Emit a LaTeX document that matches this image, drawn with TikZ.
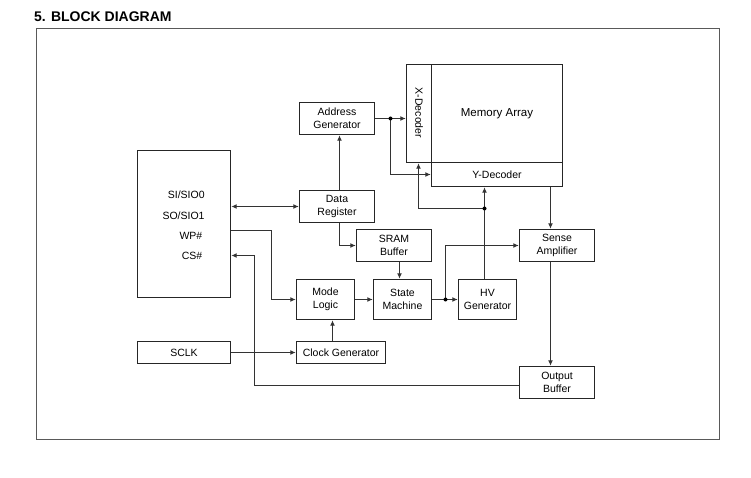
\documentclass[tikz,border=0pt]{standalone}
\usepackage{fontspec}
\setmainfont{Liberation Sans}
\usetikzlibrary{arrows.meta}
\tikzset{
  blk/.style={draw=black!85, line width=1.45pt, inner sep=0pt, align=center,
    font=\fontsize{10.5}{13}\selectfont},
  conn/.style={draw=black!80, line width=1.25pt},
  arr/.style={conn, -{Latex[length=5.5pt,width=5pt]}},
  darr/.style={conn, {Latex[length=5.5pt,width=5pt]}-{Latex[length=5.5pt,width=5pt]}},
  jdot/.style={fill=black, circle, inner sep=0pt, minimum size=4pt},
  pin/.style={anchor=base west, inner sep=0pt, font=\fontsize{10.5}{13}\selectfont}
}
\begin{document}
\begin{tikzpicture}[x=1pt,y=-1pt]
\useasboundingbox[fill=white] (0,0) rectangle (751,478);
% title and frame
\node[anchor=base west, inner sep=0pt, font=\fontsize{14}{16}\bfseries] (title) at (34,22) {5. BLOCK DIAGRAM};
\draw[draw=black!65, line width=1.4pt] (36.5,28.5) rectangle (719.5,439.5);

% blocks
\node[blk, minimum width=93pt, minimum height=147pt] (si) at (184,224) {};
\node[pin] (p1) at (167.7,199) {SI/SIO0};
\node[pin] (p2) at (162.3,219.3) {SO/SIO1};
\node[pin] (p3) at (179.3,239.3) {WP\#};
\node[pin] (p4) at (181.7,259.3) {CS\#};
\node[blk, minimum width=93pt, minimum height=22pt] (sclk) at (184,352.5) {SCLK};
\node[blk, minimum width=75pt, minimum height=32pt] (addr) at (337,118.5) {Address\\Generator};
\node[blk, minimum width=75pt, minimum height=32pt] (dreg) at (337,206.5) {Data\\Register};
\node[blk, minimum width=75pt, minimum height=32pt] (sram) at (394,245.5) {SRAM\\Buffer};
\node[blk, minimum width=58pt, minimum height=40pt] (mode) at (325.5,299.5) {Mode\\Logic};
\node[blk, minimum width=58pt, minimum height=40pt] (sm) at (402.5,299.5) {State\\Machine};
\node[blk, minimum width=58pt, minimum height=40pt] (hv) at (487.5,299.5) {HV\\Generator};
\node[blk, minimum width=89pt, minimum height=22pt] (clk) at (341,352.5) {Clock Generator};
\node[blk, minimum width=25pt, minimum height=98pt] (xdec) at (419,113.5) {};
\node[rotate=-90, inner sep=0pt, font=\fontsize{10.5}{13}\selectfont] (xdect) at (419,113) {X-Decoder};
\node[blk, minimum width=131pt, minimum height=98pt, font=\fontsize{11.5}{14}\selectfont] (mem) at (497,113.5) {Memory Array};
\node[blk, minimum width=131pt, minimum height=24pt] (ydec) at (497,174.5) {Y-Decoder};
\node[blk, minimum width=75pt, minimum height=32pt] (sa) at (557,245.5) {Sense\\Amplifier};
\node[blk, minimum width=75pt, minimum height=32pt] (ob) at (557,382.5) {Output\\Buffer};

% junction and routing coordinates
\coordinate (j1) at (390.5,118.5);
\coordinate (j2) at (484.5,208.5);
\coordinate (j3) at (445.5,299.5);
\coordinate (cy) at (550.5,0);
\coordinate (cd) at (339.5,0);
\coordinate (cs) at (399.5,0);
\coordinate (cc) at (332.5,0);
\coordinate (cx) at (418.5,0);
\coordinate (wp) at (271.5,230.5);
\coordinate (csy) at (254.5,255.5);
\coordinate (oby) at (254.5,385.5);

% connectors
\draw[arr] (addr.east) -- (addr.east -| xdec.west);
\draw[arr] (j1) |- (ydec.west);
\draw[arr] (hv.north -| j2) -- (ydec.south -| j2);
\draw[arr] (j2) -| (xdec.south -| cx);
\draw[arr] (ydec.south -| cy) -- (sa.north -| cy);
\draw[arr] (sa.south -| cy) -- (ob.north -| cy);
\draw[arr] (dreg.north -| cd) -- (addr.south -| cd);
\draw[darr] (si.east |- dreg.west) -- (dreg.west);
\draw[arr] (si.east |- wp) -- (wp) |- (mode.west);
\draw[arr] (ob.west |- oby) -- (oby) -- (csy) -- (si.east |- csy);
\draw[arr] (dreg.south -| cd) |- (sram.west);
\draw[arr] (sram.south -| cs) -- (sm.north -| cs);
\draw[arr] (mode.east) -- (sm.west);
\draw[arr] (sm.east) -- (hv.west);
\draw[arr] (j3) |- (sa.west);
\draw[arr] (sclk.east) -- (clk.west);
\draw[arr] (clk.north -| cc) -- (mode.south -| cc);

% dots
\node[jdot] (d1) at (j1) {};
\node[jdot] (d2) at (j2) {};
\node[jdot] (d3) at (j3) {};
\end{tikzpicture}
\end{document}
